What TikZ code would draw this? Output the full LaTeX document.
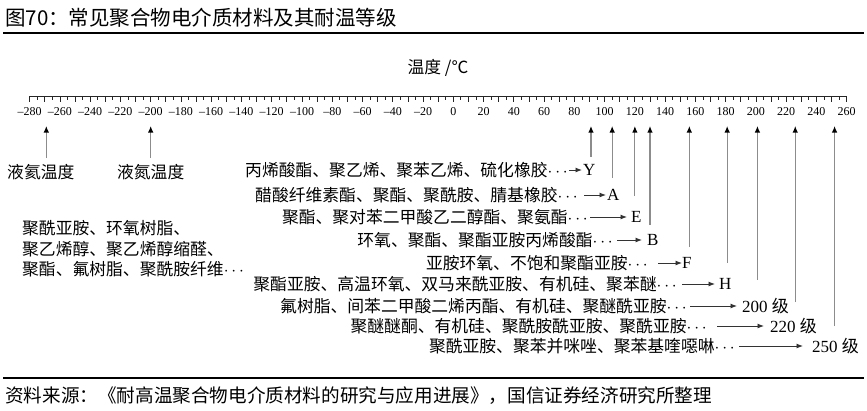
\documentclass[tikz,border=0pt]{standalone}
\usepackage{fontspec}
\setmainfont{Liberation Serif}
\newfontfamily\cjk{Noto Sans CJK SC}
\usetikzlibrary{arrows.meta}
\usetikzlibrary{positioning}

% temperature (deg C) -> x position on the scale
\newcommand{\degx}[1]{453.3+1.513*(#1)}

\tikzset{
  axisline/.style={line width=0.9pt, black!85},
  tickmark/.style={line width=0.8pt, black!85},
  ticklabel/.style={inner sep=0pt, font=\fontsize{12}{14}\selectfont},
  uparrow/.style={draw=black!45, line width=1.2pt, -{Latex[length=6.5pt,width=5.5pt,color=black]}},
  rowarrow/.style={draw=black!80, line width=0.9pt, -{Latex[length=6.5pt,width=5pt]}},
  cjktext/.style={inner sep=0pt, font=\cjk\fontsize{16.8}{20}\selectfont},
  rowtext/.style={cjktext, anchor=east},
  grade/.style={inner sep=0pt, anchor=west, font=\fontsize{17}{20}\selectfont},
}

\begin{document}
\begin{tikzpicture}[x=1pt, y=1pt]
  \useasboundingbox (0,0) rectangle (867,-410);

  \node [anchor=west, inner sep=0pt, font=\cjk\fontsize{20.5}{24}\selectfont] (title) at (5,-18) {图70：常见聚合物电介质材料及其耐温等级};
  \draw [line width=1.2pt] (3,-33) -- (864,-33);

  \node [cjktext] (unit) at (438,-68) {温度 /℃};

  % the scale
  \draw [axisline] ({\degx{-280}},-96) -- ({\degx{260}},-96);
  \foreach \t in {-280,-270,...,260}
    \draw [tickmark] ({\degx{\t}},-96) -- ++(0,-6);
  \foreach \t in {-275,-265,...,255}
    \draw [tickmark] ({\degx{\t}},-96) -- ++(0,-3.5);
  \foreach \t in {-280,-260,...,260}
    \node [ticklabel] (tick\t) at ({\degx{\t}},-112) {\ifnum\t<0 –\number\numexpr-\t\relax\else\t\fi};

  % arrows up to the scale
  \foreach \t/\b/\n in {-269/158/he, -200/158/ni, 91/157/y, 105/178/a, 120/196/e, 130/225/b,
                        156/247/f, 181/263/h, 201/280/c200, 226/302/c220, 252/326/c250} {
    \coordinate (bot-\n) at ({\degx{\t}},-\b);
    \coordinate (top-\n) at ({\degx{\t}},-126);
    \draw [uparrow] (bot-\n) -- (top-\n);
  }

  \node [cjktext, below=6pt of bot-he, xshift=-5.5pt] (helium) {液氦温度};
  \node [cjktext, below=6pt of bot-ni] (nitrogen) {液氮温度};

  \node [cjktext, anchor=west] (misc1) at (22,-228) {聚酰亚胺、环氧树脂、};
  \node [cjktext, anchor=west] (misc2) at (22,-249) {聚乙烯醇、聚乙烯醇缩醛、};
  \node [cjktext, anchor=west] (misc3) at (22,-269) {聚酯、氟树脂、聚酰胺纤维$\cdots$};

  % materials -> insulation class
  \foreach \y/\e/\gs/\lw/\ge/\n/\lab/\txt in {
    170/568/1/583/1/y/Y/丙烯酸酯、聚乙烯、聚苯乙烯、硫化橡胶,
    195/578/6/607/1/a/A/醋酸纤维素酯、聚酯、聚酰胺、腈基橡胶,
    217/588/2/631/4/e/E/聚酯、聚对苯二甲酸乙二醇酯、聚氨酯,
    240/613/4/647/5/b/B/环氧、聚酯、聚酯亚胺丙烯酸酯,
    263/648/10/682/0/f/F/亚胺环氧、不饱和聚酯亚胺,
    284/677/5/719/4/h/H/聚酯亚胺、高温环氧、双马来酰亚胺、有机硅、聚苯醚,
    306/687/3/742/5/c200/200 {\cjk 级}/氟树脂、间苯二甲酸二烯丙酯、有机硅、聚醚酰亚胺,
    326/707/10/770/6/c220/220 {\cjk 级}/聚醚醚酮、有机硅、聚酰胺酰亚胺、聚酰亚胺,
    346/735/4/812/9/c250/250 {\cjk 级}/聚酰亚胺、聚苯并咪唑、聚苯基喹噁啉} {
    \node [rowtext] (row-\n) at (\e,-\y) {\txt$\cdots$};
    \node [grade] (lab-\n) at (\lw,-\y) {\lab};
    \draw [rowarrow] ([xshift=\gs pt]row-\n.east) -- ([xshift=-\ge pt]lab-\n.west);
  }

  \draw [line width=1.2pt] (3,-378) -- (864,-378);
  \node [anchor=west, inner sep=0pt, font=\cjk\fontsize{18.6}{22}\selectfont] (source) at (5,-396) {资料来源：《耐高温聚合物电介质材料的研究与应用进展》，国信证券经济研究所整理};
\end{tikzpicture}
\end{document}
